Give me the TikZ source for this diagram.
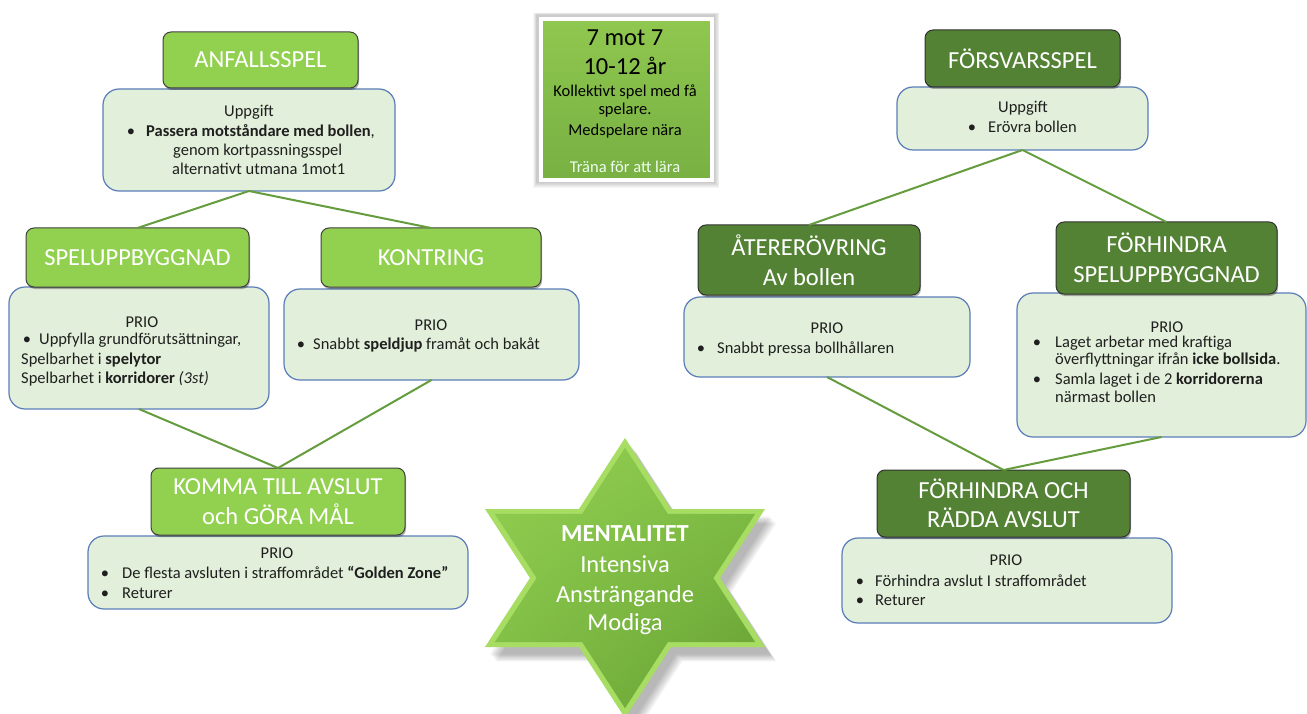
\documentclass[tikz,border=0pt]{standalone}
\usepackage{fontspec}
\setmainfont{Carlito}
\usetikzlibrary{shadows,shadings}

\definecolor{hdrlight}{HTML}{92D050}
\definecolor{hdrdark}{HTML}{548235}
\definecolor{boxfill}{HTML}{E2EFDA}
\definecolor{boxline}{HTML}{5B7DB8}
\definecolor{linkgreen}{HTML}{659C3E}
\definecolor{bodytext}{HTML}{1F1F1F}
\definecolor{agetop}{HTML}{8FC74F}
\definecolor{agebottom}{HTML}{78B043}
\definecolor{staredge}{HTML}{A6DD62}
\definecolor{starul}{HTML}{92CF51}
\definecolor{starur}{HTML}{84C248}
\definecolor{starll}{HTML}{7EBB43}
\definecolor{starlr}{HTML}{66A033}

\newcommand\hfont{\fontsize{24.5}{29.5}\selectfont}
\newcommand\bfont{\fontsize{16.5}{19.5}\selectfont}
% six-pointed star around its centre, y pointing down
\newcommand\hexstarpath{(0,-140) -- (46,-69) -- (140,-69) -- (95,0) -- (140,69) -- (46,69) -- (0,140) -- (-46,69) -- (-140,69) -- (-95,0) -- (-140,-69) -- (-46,-69) -- cycle}

\begin{document}
\begin{tikzpicture}[x=1pt,y=-1pt,
  hdr/.style={rounded corners=8pt, draw=black!75, line width=1pt, text=white,
    font=\hfont, align=center, inner sep=0pt, outer sep=0pt, anchor=north west,
    drop shadow={shadow xshift=1pt, shadow yshift=-2pt, opacity=0.3, fill=black}},
  hdrL/.style={hdr, fill=hdrlight},
  hdrD/.style={hdr, fill=hdrdark, draw=black!80},
  tbox/.style={rounded corners=16pt, draw=boxline, line width=1.2pt, fill=boxfill,
    inner sep=0pt, outer sep=0pt, anchor=north west},
  txt/.style={inner sep=0pt, font=\bfont, text=bodytext},
  link/.style={draw=linkgreen, line width=2pt},
  startxt/.style={inner sep=0pt, font=\hfont, text=white, anchor=base},
]
\useasboundingbox (0,0) rectangle (1307,714);
\fill[white] (0,0) rectangle (1307,714);

% ---------------- attacking play (left) ----------------
\node[tbox, minimum width=292pt, minimum height=102pt] (b1) at (103,89) {};
\node[hdrL, minimum width=195pt, minimum height=56pt] (h1) at (163,32) {ANFALLSSPEL};
\node[txt, anchor=base] (b1t) at (249,117) {Uppgift};
\node[txt, anchor=base] (b1d) at (131,137) {•};
\node[txt, anchor=base west] (b1a) at (146,137) {\textbf{Passera motståndare med bollen},};
\node[txt, anchor=base west] (b1b) at (173,156) {genom kortpassningsspel};
\node[txt, anchor=base west] (b1c) at (172,175) {alternativt utmana 1mot1};

\node[tbox, minimum width=260pt, minimum height=122pt] (b2) at (9,287) {};
\node[hdrL, minimum width=223pt, minimum height=59pt] (h2) at (26,228) {SPELUPPBYGGNAD};
\node[txt, anchor=base] (b2t) at (142,327) {PRIO};
\node[txt, anchor=base] (b2d) at (27,344) {•};
\node[txt, anchor=base west] (b2a) at (39,344) {Uppfylla grundförutsättningar,};
\node[txt, anchor=base west] (b2b) at (21,364) {Spelbarhet i \textbf{spelytor}};
\node[txt, anchor=base west] (b2c) at (21,383) {Spelbarhet i \textbf{korridorer} \textit{(3st)}};

\node[tbox, minimum width=295pt, minimum height=91pt] (b3) at (284,289) {};
\node[hdrL, minimum width=220pt, minimum height=59pt] (h3) at (321,228) {KONTRING};
\node[txt, anchor=base] (b3t) at (431,330) {PRIO};
\node[txt, anchor=base] (b3d) at (301,349) {•};
\node[txt, anchor=base west] (b3a) at (313,349) {Snabbt \textbf{speldjup} framåt och bakåt};

\node[tbox, minimum width=380pt, minimum height=73pt] (b4) at (88,536) {};
\node[hdrL, minimum width=254pt, minimum height=67pt] (h4) at (151,468) {KOMMA TILL AVSLUT\\och GÖRA MÅL};
\node[txt, anchor=base] (b4t) at (277,558) {PRIO};
\node[txt, anchor=base] (b4d1) at (105,578) {•};
\node[txt, anchor=base west] (b4a) at (122,578) {De flesta avsluten i straffområdet \textbf{“Golden Zone”}};
\node[txt, anchor=base] (b4d2) at (105,598) {•};
\node[txt, anchor=base west] (b4b) at (122,598) {Returer};

% ---------------- defending play (right) ----------------
\node[tbox, minimum width=251pt, minimum height=63pt] (b5) at (897,87) {};
\node[hdrD, minimum width=195pt, minimum height=57pt] (h5) at (925,30) {FÖRSVARSSPEL};
\node[txt, anchor=base] (b5t) at (1023,113) {Uppgift};
\node[txt, anchor=base] (b5d) at (972,133) {•};
\node[txt, anchor=base west] (b5a) at (988,133) {Erövra bollen};

\node[tbox, minimum width=286pt, minimum height=80pt] (b6) at (684,297) {};
\node[hdrD, minimum width=222pt, minimum height=70pt] (h6) at (698,225) {ÅTERERÖVRING\\Av bollen};
\node[txt, anchor=base] (b6t) at (827,333) {PRIO};
\node[txt, anchor=base] (b6d) at (701,353) {•};
\node[txt, anchor=base west] (b6a) at (717,353) {Snabbt pressa bollhållaren};

\node[tbox, minimum width=289pt, minimum height=144pt] (b7) at (1017,293) {};
\node[hdrD, minimum width=221pt, minimum height=72pt] (h7) at (1056,222) {FÖRHINDRA\\SPELUPPBYGGNAD};
\node[txt, anchor=base] (b7t) at (1167,332) {PRIO};
\node[txt, anchor=base] (b7d1) at (1037,347) {•};
\node[txt, anchor=base west] (b7a) at (1055,347) {Laget arbetar med kraftiga};
\node[txt, anchor=base west] (b7b) at (1055,364) {överflyttningar ifrån \textbf{icke bollsida}.};
\node[txt, anchor=base] (b7d2) at (1037,384) {•};
\node[txt, anchor=base west] (b7c) at (1055,384) {Samla laget i de 2 \textbf{korridorerna}};
\node[txt, anchor=base west] (b7e) at (1055,402) {närmast bollen};

\node[tbox, minimum width=330pt, minimum height=85pt] (b8) at (842,538) {};
\node[hdrD, minimum width=253pt, minimum height=67pt] (h8) at (877,470) {FÖRHINDRA OCH\\RÄDDA AVSLUT};
\node[txt, anchor=base] (b8t) at (1006,565) {PRIO};
\node[txt, anchor=base] (b8d1) at (860,586) {•};
\node[txt, anchor=base west] (b8a) at (875,586) {Förhindra avslut I straffområdet};
\node[txt, anchor=base] (b8d2) at (860,605) {•};
\node[txt, anchor=base west] (b8b) at (875,605) {Returer};

% ---------------- connectors ----------------
\draw[link] (b1.south) -- (h2.north);
\draw[link] (b1.south) -- (h3.north);
\draw[link] (b2.south) -- (h4.north);
\draw[link] (b3.south) -- (h4.north);
\draw[link] (b5.south) -- (h6.north);
\draw[link] (b5.south) -- (h7.north);
\draw[link] (b6.south) -- (h8.north);
\draw[link] (b7.south) -- (h8.north);

% ---------------- age group card (top centre) ----------------
\foreach \g in {1,...,6}
  \fill[black, opacity=0.035] (537-\g*0.6,15-\g*0.4) rectangle (714+\g*0.9,182+\g*1.0);
\node[draw=white, line width=4pt, top color=agetop, bottom color=agebottom,
  minimum width=171pt, minimum height=161pt, inner sep=0pt, anchor=north west] (age) at (539,17) {};
\node[inner sep=0pt, font=\hfont, text=black, anchor=base] (age1) at (625,46) {7 mot 7};
\node[inner sep=0pt, font=\hfont, text=black, anchor=base] (age2) at (625,75) {10-12 år};
\node[txt, text=black, anchor=base] (age3) at (625,97) {Kollektivt spel med få};
\node[txt, text=black, anchor=base] (age4) at (625,115) {spelare.};
\node[txt, text=black, anchor=base] (age5) at (625,136) {Medspelare nära};
\node[txt, text=white!94!green, anchor=base] (age6) at (625,173) {Träna för att lära};

% ---------------- mentality star (bottom centre) ----------------
\begin{scope}[shift={(625,578)}]
  \foreach \g in {1,...,6}
    \fill[black, opacity=0.05, shift={(4+\g*1.2,6+\g*1.4)}] \hexstarpath;
  \fill[staredge] \hexstarpath;
  \begin{scope}[scale=0.93]
    \shade[upper left=starul, upper right=starur, lower left=starll, lower right=starlr] \hexstarpath;
  \end{scope}
\end{scope}
\node[startxt] (st1) at (625,541) {\textbf{MENTALITET}};
\node[startxt] (st2) at (625,572) {Intensiva};
\node[startxt] (st3) at (625,602) {Ansträngande};
\node[startxt] (st4) at (625,630) {Modiga};
\end{tikzpicture}
\end{document}
